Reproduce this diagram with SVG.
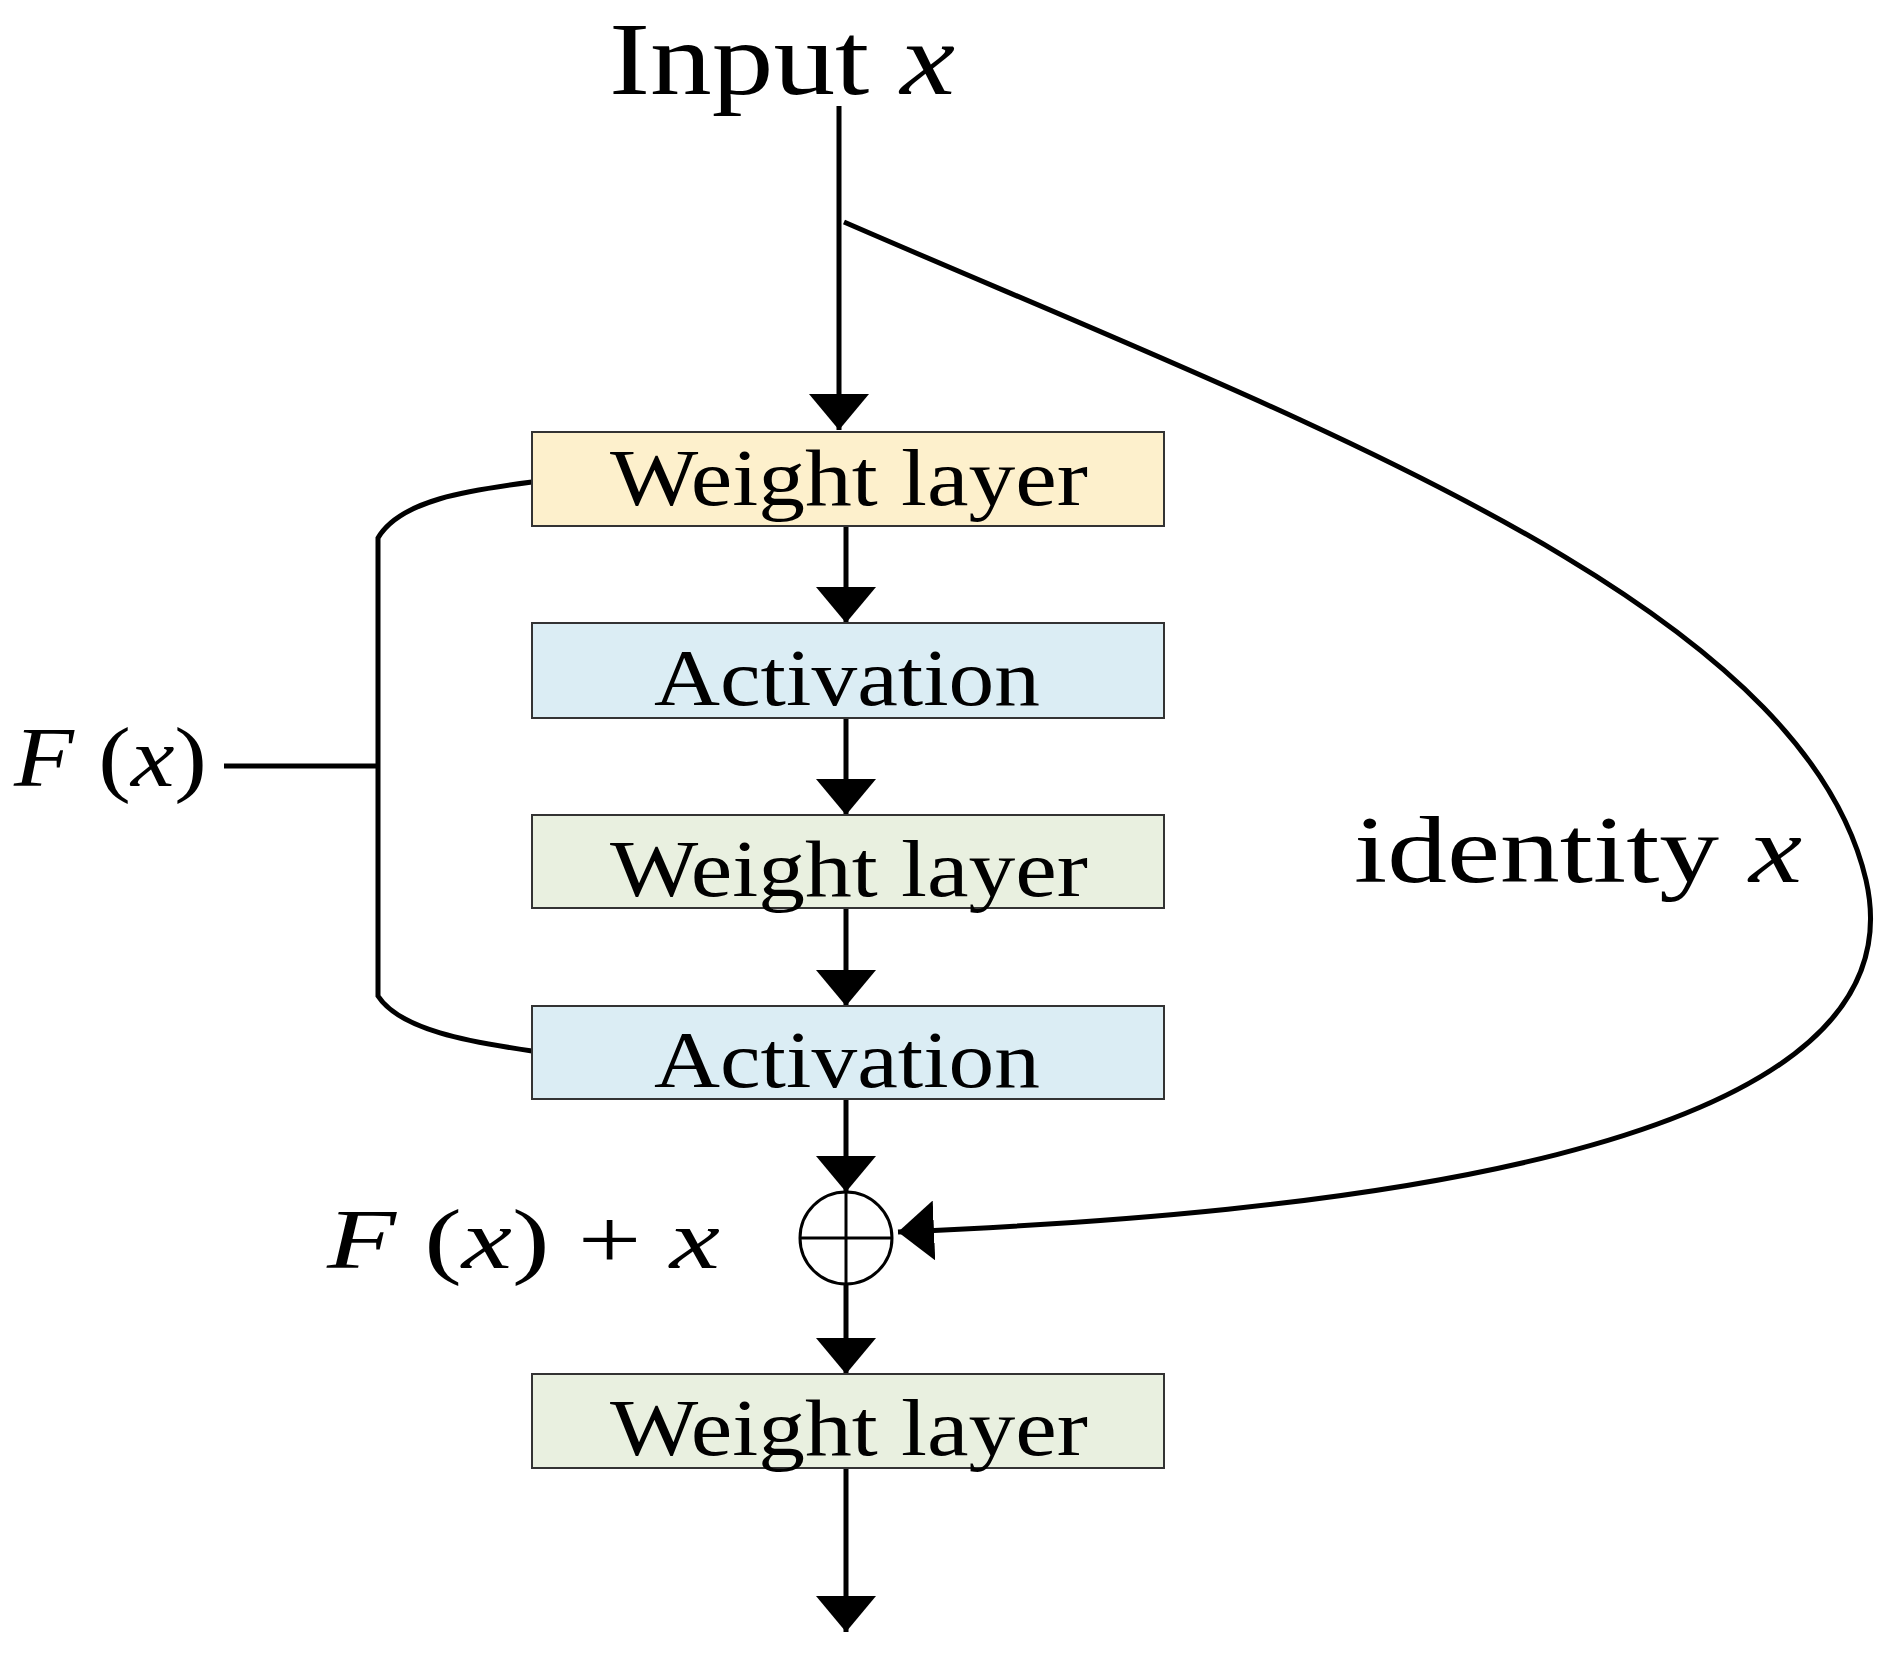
<svg xmlns="http://www.w3.org/2000/svg" width="1884" height="1653" viewBox="0 0 1884 1653">
<style>
text{font-family:"Liberation Serif","Times New Roman",serif;fill:#000}
.b{stroke:#333;stroke-width:2}
.l{stroke:#000;stroke-width:5;fill:none}
.t{font-size:80px}
.i{font-style:italic}
</style>
<defs><marker id="m" viewBox="0 0 36 60" refX="36" refY="30" markerWidth="36" markerHeight="60" markerUnits="userSpaceOnUse" orient="auto"><path d="M0,0L36,30L0,60z" fill="#000"/></marker></defs>
<rect width="1884" height="1653" fill="#fff"/>
<g id="connectors">
<path class="l" d="M839,106V430" marker-end="url(#m)"/>
<path class="l" d="M846,526V623" marker-end="url(#m)"/>
<path class="l" d="M846,718V815" marker-end="url(#m)"/>
<path class="l" d="M846,908V1006" marker-end="url(#m)"/>
<path class="l" d="M846,1099V1192" marker-end="url(#m)"/>
<path class="l" d="M846,1284V1374" marker-end="url(#m)"/>
<path class="l" d="M846,1468V1632" marker-end="url(#m)"/>
<path class="l" d="M844,222C1300,420 1800,600 1866,880C1930,1160 1300,1215 898,1232" marker-end="url(#m)"/>
<path class="l" d="M532,482C470,490 400,500 378,538V996C400,1030 470,1042 532,1051"/>
<path class="l" d="M224,766H378"/>
</g>
<g id="input"><text x="609" y="94" font-size="104" textLength="346" lengthAdjust="spacingAndGlyphs">Input <tspan class="i">x</tspan></text></g>
<g id="w1"><rect class="b" x="532" y="432" width="632" height="94" fill="#fdf0cc"/><text class="t" x="610" y="505" textLength="478" lengthAdjust="spacingAndGlyphs">Weight layer</text></g>
<g id="a1"><rect class="b" x="532" y="623" width="632" height="95" fill="#dbedf4"/><text class="t" x="654" y="705" textLength="386" lengthAdjust="spacingAndGlyphs">Activation</text></g>
<g id="w2"><rect class="b" x="532" y="815" width="632" height="93" fill="#e9f0e0"/><text class="t" x="610" y="896" textLength="478" lengthAdjust="spacingAndGlyphs">Weight layer</text></g>
<g id="a2"><rect class="b" x="532" y="1006" width="632" height="93" fill="#dbedf4"/><text class="t" x="654" y="1087" textLength="386" lengthAdjust="spacingAndGlyphs">Activation</text></g>
<g id="sum"><circle cx="846" cy="1238" r="46" fill="none" stroke="#000" stroke-width="3"/><path d="M800,1238H892M846,1192V1284" stroke="#000" stroke-width="3"/></g>
<g id="w3"><rect class="b" x="532" y="1374" width="632" height="94" fill="#e9f0e0"/><text class="t" x="610" y="1455" textLength="478" lengthAdjust="spacingAndGlyphs">Weight layer</text></g>
<g id="fx"><text x="14" y="786" font-size="84" class="i" textLength="193" lengthAdjust="spacingAndGlyphs">F<tspan font-style="normal"> (</tspan>x<tspan font-style="normal">)</tspan></text></g>
<g id="fxx"><text x="327" y="1268" font-size="84" class="i" textLength="393" lengthAdjust="spacingAndGlyphs">F<tspan font-style="normal"> (</tspan>x<tspan font-style="normal">) + </tspan>x</text></g>
<g id="id"><text x="1354" y="882" font-size="96" textLength="448" lengthAdjust="spacingAndGlyphs">identity <tspan class="i">x</tspan></text></g>
</svg>
